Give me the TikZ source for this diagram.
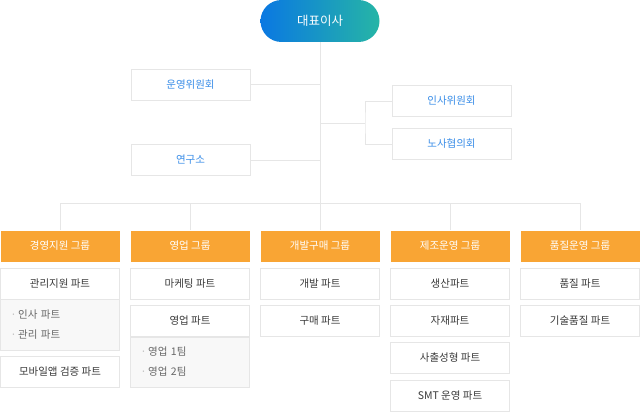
\documentclass[tikz,border=0pt]{standalone}
\usepackage{fontspec}
\setmainfont{Noto Sans CJK KR}
\usetikzlibrary{positioning}

\definecolor{ceoblue}{HTML}{0A78E2}
\definecolor{ceoteal}{HTML}{26B5A6}
\definecolor{linegray}{HTML}{E6E6E6}
\definecolor{grporange}{HTML}{F9A534}
\definecolor{cmteblue}{HTML}{3B8EE8}
\definecolor{textdark}{HTML}{3A3A3A}
\definecolor{listtext}{HTML}{686868}
\definecolor{listfill}{HTML}{F8F8F8}
\definecolor{dotgray}{HTML}{BBBBBB}

\tikzset{
  ceo/.style={rounded corners=21pt, minimum width=119pt, minimum height=42pt,
    left color=ceoblue, right color=ceoteal, text=white, inner sep=0pt,
    font=\fontsize{12.5}{14}\selectfont},
  cmte/.style={draw=linegray, fill=white, minimum width=119pt, minimum height=31pt,
    inner sep=0pt, text=cmteblue, font=\fontsize{10.5}{12}\selectfont},
  grp/.style={fill=grporange, minimum width=119pt, minimum height=31pt,
    inner sep=0pt, text=white, font=\fontsize{10.5}{12}\selectfont},
  part/.style={draw=linegray, fill=white, minimum width=119pt, minimum height=31pt,
    inner sep=0pt, text=textdark, font=\fontsize{10.5}{12}\selectfont},
  sublist/.style={draw=linegray, fill=listfill, text width=99pt, inner xsep=10pt,
    align=left, anchor=north, text=listtext, font=\fontsize{10.5}{20}\selectfont},
  conn/.style={draw=linegray, line width=1pt}
}
\newcommand{\dotitem}[1]{{\color{dotgray}·}\,#1}

\begin{document}
\begin{tikzpicture}[x=1pt, y=-1pt]
  \useasboundingbox (0,0) rectangle (640,412);

  % top
  \node[ceo] (ceo) at (320,21) {대표이사};
  \node[cmte] (unyeong) at (190.5,85) {운영위원회};
  \node[cmte] (yeongu) at (190.5,160) {연구소};
  \node[cmte] (insa) at (451.5,101) {인사위원회};
  \node[cmte] (nosa) at (451.5,144) {노사협의회};

  \coordinate (bus) at (320,203);
  \coordinate (fork) at (365,123);

  % groups
  \node[grp] (g1) at (60,246) {경영지원 그룹};
  \node[grp] (g2) at (190,246) {영업 그룹};
  \node[grp] (g3) at (320,246) {개발구매 그룹};
  \node[grp] (g4) at (450,246) {제조운영 그룹};
  \node[grp] (g5) at (580,246) {품질운영 그룹};

  % connectors
  \draw[conn] (ceo) -- (bus);
  \draw[conn] (unyeong) -- (unyeong -| ceo);
  \draw[conn] (yeongu) -- (yeongu -| ceo);
  \draw[conn] (ceo |- fork) -- (fork);
  \draw[conn] (insa.west) -| (fork) |- (nosa.west);
  \draw[conn] (g1.north) -- (g1.north |- bus) -- (g5.north |- bus) -- (g5.north);
  \foreach \g in {g2,g3,g4}
    \draw[conn] (\g.north) -- (\g.north |- bus);

  % parts
  \node[part] (p11) at (60,283.5) {관리지원 파트};
  \node[sublist, minimum height=51pt] (l1) at (p11.south)
    {\dotitem{인사 파트}\\ \dotitem{관리 파트}};
  \node[part] (p12) at (60,372) {모바일앱 검증 파트};

  \node[part] (p21) at (190,283.5) {마케팅 파트};
  \node[part] (p22) at (190,321) {영업 파트};
  \node[sublist, minimum height=50pt] (l2) at (p22.south)
    {\dotitem{영업 1팀}\\ \dotitem{영업 2팀}};

  \node[part] (p31) at (320,283.5) {개발 파트};
  \node[part] (p32) at (320,321) {구매 파트};

  \node[part] (p41) at (450,283.5) {생산파트};
  \node[part] (p42) at (450,321) {자재파트};
  \node[part] (p43) at (450,358) {사출성형 파트};
  \node[part] (p44) at (450,395.5) {SMT 운영 파트};

  \node[part] (p51) at (580,283.5) {품질 파트};
  \node[part] (p52) at (580,321) {기술품질 파트};
\end{tikzpicture}
\end{document}
